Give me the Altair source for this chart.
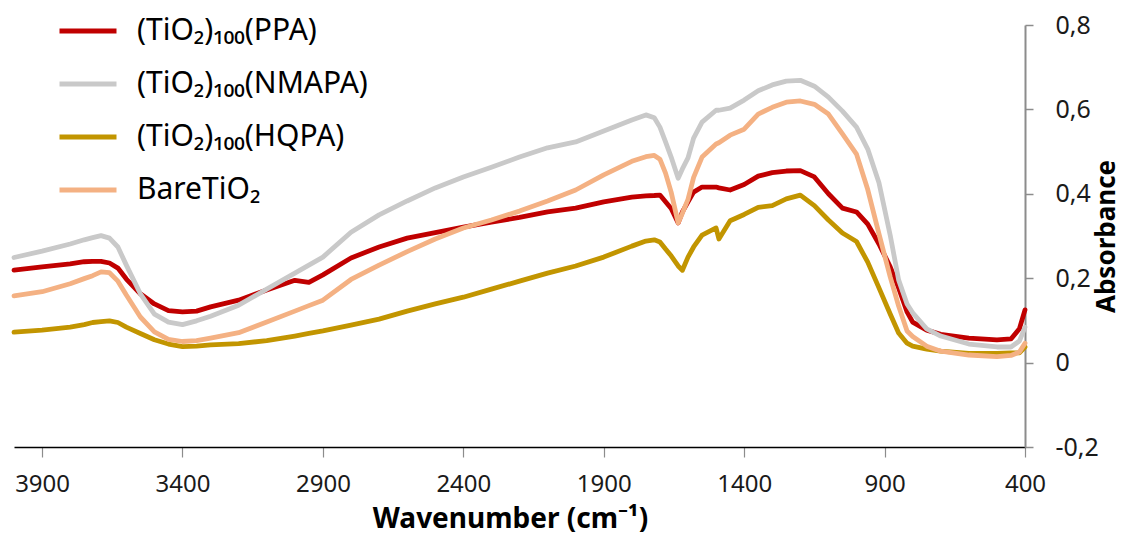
import altair as alt
import pandas as pd

wavenumber = [4000, 3900, 3800, 3750, 3720, 3690, 3660, 3630, 3600, 3550, 3500, 3450, 3400, 3350,
              3300, 3200, 3100, 3000, 2950, 2900, 2800, 2700, 2600, 2500, 2400, 2300, 2200, 2100,
              2000, 1900, 1800, 1750, 1720, 1700, 1680, 1660, 1635, 1620, 1600, 1580, 1550, 1500,
              1490, 1450, 1400, 1350, 1300, 1250, 1200, 1150, 1100, 1050, 1000, 960, 920, 880,
              850, 820, 800, 750, 700, 600, 500, 450, 420, 400]

ppa = [0.219, 0.227, 0.234, 0.239, 0.240, 0.240, 0.236, 0.224, 0.198, 0.163, 0.139, 0.123, 0.120, 0.122,
       0.132, 0.148, 0.172, 0.195, 0.190, 0.208, 0.248, 0.274, 0.295, 0.308, 0.321, 0.333, 0.344, 0.357,
       0.366, 0.381, 0.392, 0.395, 0.396, 0.397, 0.381, 0.365, 0.331, 0.357, 0.381, 0.404, 0.416, 0.416,
       0.414, 0.409, 0.422, 0.442, 0.450, 0.454, 0.455, 0.440, 0.400, 0.366, 0.357, 0.328, 0.281, 0.227,
       0.177, 0.120, 0.096, 0.077, 0.067, 0.058, 0.054, 0.056, 0.080, 0.125]

nmapa = [0.249, 0.264, 0.281, 0.291, 0.296, 0.301, 0.295, 0.274, 0.231, 0.163, 0.115, 0.096, 0.090, 0.099,
         0.110, 0.136, 0.174, 0.212, 0.231, 0.250, 0.309, 0.350, 0.383, 0.414, 0.440, 0.463, 0.487, 0.509,
         0.523, 0.549, 0.575, 0.587, 0.580, 0.558, 0.523, 0.487, 0.437, 0.459, 0.485, 0.532, 0.570, 0.598,
         0.598, 0.603, 0.622, 0.644, 0.658, 0.667, 0.669, 0.655, 0.629, 0.596, 0.558, 0.506, 0.426, 0.302,
         0.196, 0.139, 0.118, 0.080, 0.063, 0.044, 0.037, 0.037, 0.051, 0.084]

hqpa = [0.072, 0.077, 0.084, 0.090, 0.095, 0.097, 0.099, 0.095, 0.084, 0.069, 0.054, 0.044, 0.038, 0.039,
        0.042, 0.045, 0.052, 0.063, 0.069, 0.075, 0.089, 0.103, 0.122, 0.139, 0.155, 0.174, 0.193, 0.212,
        0.229, 0.250, 0.276, 0.288, 0.291, 0.286, 0.269, 0.253, 0.229, 0.219, 0.250, 0.274, 0.302, 0.319,
        0.293, 0.336, 0.351, 0.368, 0.372, 0.388, 0.397, 0.372, 0.338, 0.307, 0.287, 0.238, 0.177, 0.115,
        0.070, 0.046, 0.039, 0.032, 0.027, 0.022, 0.022, 0.023, 0.023, 0.037]

bare = [0.158, 0.168, 0.187, 0.199, 0.206, 0.215, 0.213, 0.193, 0.160, 0.108, 0.073, 0.055, 0.050, 0.052,
        0.058, 0.071, 0.096, 0.122, 0.135, 0.148, 0.197, 0.231, 0.263, 0.293, 0.319, 0.338, 0.359, 0.383,
        0.409, 0.445, 0.477, 0.488, 0.491, 0.482, 0.449, 0.404, 0.331, 0.354, 0.387, 0.439, 0.487, 0.518,
        0.521, 0.539, 0.553, 0.589, 0.605, 0.617, 0.620, 0.612, 0.589, 0.542, 0.494, 0.410, 0.305, 0.203,
        0.134, 0.075, 0.062, 0.039, 0.027, 0.018, 0.014, 0.017, 0.025, 0.046]

series_names = ["(TiO\u2082)\u2081\u2080\u2080(PPA)", "(TiO\u2082)\u2081\u2080\u2080(NMAPA)",
                "(TiO\u2082)\u2081\u2080\u2080(HQPA)", "BareTiO\u2082"]
series_colors = ["#C00000", "#C9C9C9", "#C29500", "#F4B183"]
x_ticks = [3900, 3400, 2900, 2400, 1900, 1400, 900, 400]
y_ticks = [-0.2, 0, 0.2, 0.4, 0.6, 0.8]

frames = []
for name, vals in zip(series_names, [ppa, nmapa, hqpa, bare]):
    frames.append(pd.DataFrame({"wn": wavenumber, "absorbance": vals, "series": name}))
df = pd.concat(frames, ignore_index=True)

FONT = "Noto Sans"

chart = alt.Chart(df).mark_line(strokeWidth=4.8, strokeJoin="round", strokeCap="round").encode(
    x=alt.X("wn:Q",
            scale=alt.Scale(domain=[400, 4000], reverse=True, nice=False, zero=False),
            axis=alt.Axis(values=x_ticks, format="d", title="Wavenumber (cm\u207b\u00b9)",
                          grid=False, domainColor="#000000", domainWidth=1.5,
                          tickColor="#8C8C8C", tickWidth=1.2, tickSize=10,
                          labelFont=FONT, labelFontSize=24, labelColor="#1a1a1a", labelPadding=15,
                          labelFlush=False,
                          titleFont=FONT, titleFontSize=28, titleFontWeight="bold",
                          titleColor="#000000", titlePadding=9, titleX=496, titleAlign="center")),
    y=alt.Y("absorbance:Q",
            scale=alt.Scale(domain=[-0.2, 0.8], nice=False, zero=False),
            axis=alt.Axis(orient="right", values=y_ticks,
                          labelExpr="datum.value == 0 ? '0' : replace(replace(format(datum.value, '.1f'), '.', ','), '\u2212', '-')",
                          title="Absorbance", titleAngle=270, grid=False,
                          domainColor="#8C8C8C", domainWidth=2,
                          tickColor="#8C8C8C", tickWidth=1.5, tickSize=8,
                          labelFont=FONT, labelFontSize=25, labelColor="#1a1a1a", labelPadding=22,
                          labelFlush=False,
                          titleFont=FONT, titleFontSize=26, titleFontWeight="bold",
                          titleColor="#000000", titlePadding=21)),
    color=alt.Color("series:N",
                    scale=alt.Scale(domain=series_names, range=series_colors),
                    legend=alt.Legend(orient="none", legendX=43, legendY=-25, title=None,
                                      symbolType="stroke", symbolSize=3249, symbolStrokeWidth=5,
                                      labelFont=FONT, labelFontSize=30, labelColor="#000000",
                                      labelOffset=18, labelLimit=0, rowPadding=7))
).properties(
    width=1011, height=422,
    autosize=alt.AutoSizeParams(type="none"),
    padding={"left": 6, "top": 17, "right": 100, "bottom": 91}
).configure_view(stroke=None)

chart.save("out.html", embed_options={"renderer": "svg", "actions": False})
